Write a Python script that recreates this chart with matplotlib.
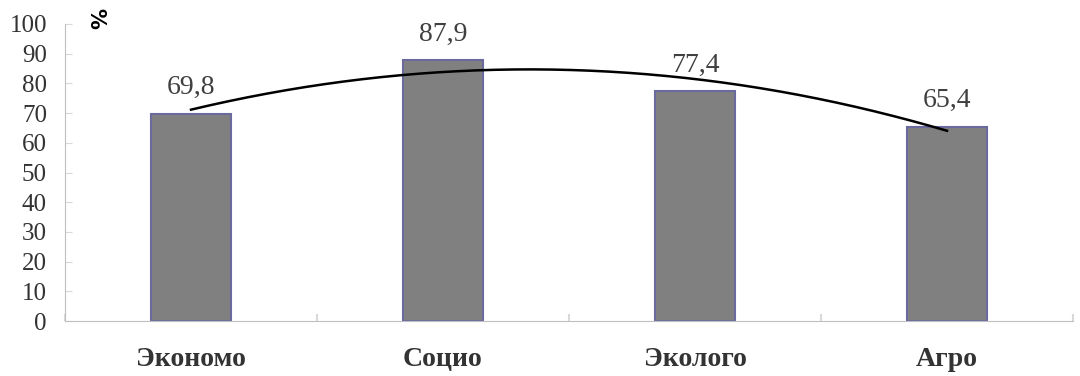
import matplotlib.pyplot as plt
import numpy as np

categories = ["Экономо", "Социо", "Эколого", "Агро"]
values = [69.8, 87.9, 77.4, 65.4]
value_labels = ["69,8", "87,9", "77,4", "65,4"]

plt.rcParams['font.family'] = ['Liberation Serif', 'DejaVu Serif']

fig = plt.figure(figsize=(10.8, 3.76), dpi=100)
ax = fig.add_axes([65/1080, 1 - 321/376, 1008/1080, 297/376])

x = np.arange(len(categories))
ax.bar(x, values, width=0.32, color='#808080', edgecolor='#6A6A9E', linewidth=1.5, zorder=2)

for xi, v, lab in zip(x, values, value_labels):
    ax.text(xi, v + 4.5, lab, ha='center', va='bottom', fontsize=20, color='#404040')

# polynomial trend (order 2) fitted on the bar values
p = np.polyfit(x, values, 2)
xs = np.linspace(x[0], x[-1], 200)
ax.plot(xs, np.polyval(p, xs), color='black', linewidth=1.8, zorder=3)

ax.set_xlim(-0.5, 3.5)
ax.set_ylim(0, 100)
ax.set_yticks(range(0, 101, 10))
ax.set_xticks(x)
ax.set_xticklabels(categories, fontsize=20, fontweight='bold', color='#333333')
ax.set_xticks(np.arange(-0.5, 3.6, 1.0), minor=True)
ax.tick_params(axis='x', which='major', length=0, pad=19)
ax.tick_params(axis='x', which='minor', direction='in', length=5, width=1.5, color='#D9D9D9')
ax.tick_params(axis='y', direction='in', length=5, color='#D9D9D9', labelsize=18,
               labelcolor='#333333', pad=13)

for s in ['top', 'right']:
    ax.spines[s].set_visible(False)
for s in ['left', 'bottom']:
    ax.spines[s].set_color('#BFBFBF')

fig.text(95/1080, 1 - 18/376, "%", rotation=-90, ha='center', va='center',
         fontsize=15, fontweight='bold', family='DejaVu Sans')

fig.savefig("out.png", dpi=100)
